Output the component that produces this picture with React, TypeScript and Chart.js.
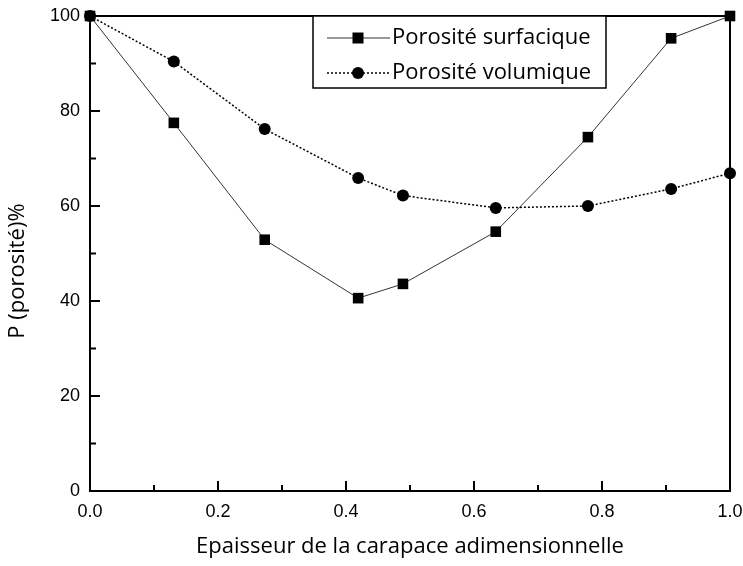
import React, { useEffect, useRef } from "react";
import { Chart, registerables } from "chart.js";

Chart.register(...registerables);

const thickness = [0, 0.131, 0.273, 0.419, 0.489, 0.634, 0.778, 0.908, 1.0];
const porositeSurfacique = [100, 77.5, 52.9, 40.6, 43.6, 54.6, 74.5, 95.3, 100];
const porositeVolumique = [100, 90.4, 76.2, 65.9, 62.2, 59.6, 60.0, 63.6, 66.9];

const seriesNames = ["Porosité surfacique", "Porosité volumique"];
const xTitle = "Epaisseur de la carapace adimensionnelle";
const yTitle = "P (porosité)%";

const TICK_FONT = "'Liberation Sans', Arial, sans-serif";
const TITLE_FONT = "'Open Sans', 'Noto Sans', sans-serif";

const framePlugin = {
  id: "frame",
  beforeDatasetsDraw(chart: any) {
    const { ctx, chartArea: a, scales } = chart;
    const xs = scales.x;
    const ys = scales.y;
    ctx.save();
    ctx.strokeStyle = "#000";
    ctx.lineWidth = 2;
    ctx.strokeRect(a.left, a.top, a.right - a.left, a.bottom - a.top);
    ctx.beginPath();
    const xt = xs.ticks.map((t: any) => t.value);
    for (let i = 0; i < xt.length; i++) {
      const px = xs.getPixelForValue(xt[i]);
      ctx.moveTo(px, a.bottom);
      ctx.lineTo(px, a.bottom - 10);
      if (i < xt.length - 1) {
        const pm = xs.getPixelForValue((xt[i] + xt[i + 1]) / 2);
        ctx.moveTo(pm, a.bottom);
        ctx.lineTo(pm, a.bottom - 6);
      }
    }
    const yt = ys.ticks.map((t: any) => t.value);
    for (let i = 0; i < yt.length; i++) {
      const py = ys.getPixelForValue(yt[i]);
      ctx.moveTo(a.left, py);
      ctx.lineTo(a.left + 10, py);
      if (i < yt.length - 1) {
        const pm = ys.getPixelForValue((yt[i] + yt[i + 1]) / 2);
        ctx.moveTo(a.left, pm);
        ctx.lineTo(a.left + 6, pm);
      }
    }
    ctx.stroke();
    ctx.restore();
  },
  afterDraw(chart: any) {
    const { ctx, chartArea: a } = chart;
    ctx.save();
    ctx.fillStyle = "#000";
    ctx.font = `22px ${TITLE_FONT}`;
    ctx.textAlign = "center";
    ctx.textBaseline = "middle";
    ctx.translate(18, 271);
    ctx.rotate(-Math.PI / 2);
    ctx.fillText(yTitle, 0, 0);
    ctx.restore();

    // legend
    ctx.save();
    const bx = 313, by = a.top, bw = 293, bh = 72;
    ctx.fillStyle = "#fff";
    ctx.fillRect(bx, by, bw, bh);
    ctx.strokeStyle = "#000";
    ctx.lineWidth = 1.5;
    ctx.strokeRect(bx, by, bw, bh);
    const rows = [38, 73];
    chart.data.datasets.forEach((ds: any, i: number) => {
      const y = rows[i];
      ctx.strokeStyle = ds.borderColor;
      ctx.lineWidth = ds.borderWidth;
      ctx.setLineDash(ds.borderDash || []);
      ctx.beginPath();
      ctx.moveTo(327, y);
      ctx.lineTo(390, y);
      ctx.stroke();
      ctx.setLineDash([]);
      ctx.fillStyle = "#000";
      if (ds.pointStyle === "rect") {
        ctx.fillRect(358 - 5.5, y - 5.5, 11, 11);
      } else {
        ctx.beginPath();
        ctx.arc(358, y, 6, 0, Math.PI * 2);
        ctx.fill();
      }
      ctx.font = `22px ${TITLE_FONT}`;
      ctx.textAlign = "left";
      ctx.textBaseline = "middle";
      ctx.fillText(ds.label, 392, y);
    });
    ctx.restore();
  },
};

export default function App() {
  const ref = useRef<HTMLCanvasElement>(null);
  useEffect(() => {
    document.body.style.margin = "0";
    const canvas = ref.current!;
    const chart = new Chart(canvas, {
      type: "line",
      data: {
        datasets: [
          {
            label: seriesNames[0],
            data: thickness.map((x, i) => ({ x, y: porositeSurfacique[i] })),
            borderColor: "#333",
            borderWidth: 1,
            backgroundColor: "#000",
            pointStyle: "rect",
            pointRadius: 7.5,
            pointBorderWidth: 0,
            pointBackgroundColor: "#000",
            tension: 0,
            clip: false,
          },
          {
            label: seriesNames[1],
            data: thickness.map((x, i) => ({ x, y: porositeVolumique[i] })),
            borderColor: "#000",
            borderWidth: 1.5,
            borderDash: [2, 2],
            backgroundColor: "#000",
            pointStyle: "circle",
            pointRadius: 6,
            pointBorderWidth: 0,
            pointBackgroundColor: "#000",
            tension: 0,
            clip: false,
          },
        ],
      },
      options: {
        animation: false,
        responsive: false,
        devicePixelRatio: 1,
        layout: { padding: { top: 16, right: 13, left: 0, bottom: 0 } },
        plugins: { legend: { display: false }, tooltip: { enabled: false } },
        scales: {
          x: {
            type: "linear",
            min: 0,
            max: 1,
            afterFit: (s: any) => {
              s.height = 75;
              s.paddingLeft = 0;
              s.paddingRight = 0;
            },
            ticks: {
              stepSize: 0.2,
              callback: (v: any) => Number(v).toFixed(1),
              font: { family: TICK_FONT, size: 18 },
              color: "#000",
              padding: 10,
              maxRotation: 0,
            },
            grid: { drawOnChartArea: false, drawTicks: false },
            border: { display: false },
            title: {
              display: true,
              text: xTitle,
              font: { family: TITLE_FONT, size: 22 },
              color: "#000",
              padding: { top: 0, bottom: 6 },
            },
          },
          y: {
            type: "linear",
            min: 0,
            max: 100,
            afterFit: (s: any) => {
              s.width = 90;
              s.paddingTop = 0;
              s.paddingBottom = 0;
            },
            ticks: {
              stepSize: 20,
              font: { family: TICK_FONT, size: 18 },
              color: "#000",
              padding: 10,
            },
            grid: { drawOnChartArea: false, drawTicks: false },
            border: { display: false },
          },
        },
      },
      plugins: [framePlugin],
    });
    return () => chart.destroy();
  }, []);
  return <canvas ref={ref} width={743} height={566} style={{ display: "block" }} />;
}
